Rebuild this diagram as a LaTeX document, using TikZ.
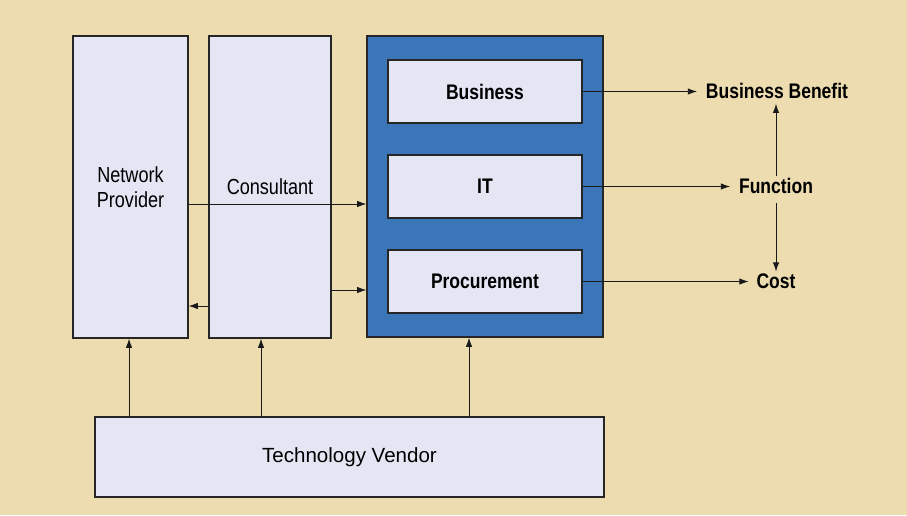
\documentclass[tikz,border=0pt]{standalone}
\usepackage{fontspec}
\setmainfont{Liberation Sans}
\newfontfamily\etroite{Liberation Sans}[FakeStretch=0.83]
\usetikzlibrary{arrows.meta}
\definecolor{fond}{RGB}{236,220,176}
\definecolor{lavande}{RGB}{228,230,244}
\definecolor{bleu}{RGB}{59,118,185}
\begin{document}
\begin{tikzpicture}[x=0.025cm,y=-0.025cm]
% Styles
\tikzstyle{fleche}=[-{Latex[length=6.5pt,width=4.5pt]},line width=0.6pt,black!90]
\tikzstyle{boite}=[draw=black!85,line width=0.9pt,fill=lavande,inner sep=0pt,align=center,font=\etroite\fontsize{15.5}{17.5}\selectfont]
\tikzstyle{bloc}=[draw=black!85,line width=0.9pt,fill=bleu,inner sep=0pt]
\tikzstyle{sortie}=[font=\etroite\bfseries\fontsize{15}{17}\selectfont]
% Dimensions
\def\Pixel{0.025cm}
\def\HauteurColonne{302*\Pixel}
\def\HauteurVolet{63*\Pixel}
\def\LargeurVolet{194*\Pixel}
% Fond
\fill[fond] (0,0) rectangle (907,515);
% Noeuds
\node[boite,minimum width={115*\Pixel},minimum height={\HauteurColonne}] (NP) at (130.5,187) {Network\\Provider};
\node[boite,minimum width={122*\Pixel},minimum height={\HauteurColonne}] (Cons) at (270,187) {Consultant};
\node[bloc,minimum width={236*\Pixel},minimum height={301*\Pixel}] (Client) at (485,186.5) {};
\node[boite,font=\etroite\bfseries\fontsize{15}{17}\selectfont,minimum width={\LargeurVolet},minimum height={\HauteurVolet}] (Bus) at (485,91.5) {Business};
\node[boite,font=\etroite\bfseries\fontsize{15}{17}\selectfont,minimum width={\LargeurVolet},minimum height={\HauteurVolet}] (IT) at (485,186.5) {IT};
\node[boite,font=\etroite\bfseries\fontsize{15}{17}\selectfont,minimum width={\LargeurVolet},minimum height={\HauteurVolet}] (Proc) at (485,281.5) {Procurement};
\node[boite,font=\fontsize{14.6}{17}\selectfont,minimum width={509*\Pixel},minimum height={80*\Pixel}] (Vendor) at (349.5,457) {Technology Vendor};
\node[sortie] (BB) at (777,91) {Business Benefit};
\node[sortie] (Func) at (776,186) {Function};
\node[sortie] (Cost) at (776,281) {Cost};
% Arcs
\draw[fleche] ([yshift=-17*\Pixel]NP.east) -- ([yshift=-17*\Pixel]NP.east -| Client.west);
\draw[fleche] ([yshift=-103*\Pixel]Cons.east) -- ([yshift=-103*\Pixel]Cons.east -| Client.west);
\draw[fleche] ([yshift=-119*\Pixel]Cons.west) -- ([yshift=-119*\Pixel]Cons.west -| NP.east);
\draw[fleche] ([xshift=-1.5*\Pixel]Vendor.north -| NP.south) -- ([xshift=-1.5*\Pixel]NP.south);
\draw[fleche] ([xshift=-9*\Pixel]Vendor.north -| Cons.south) -- ([xshift=-9*\Pixel]Cons.south);
\draw[fleche] ([xshift=-16*\Pixel]Vendor.north -| Client.south) -- ([xshift=-16*\Pixel]Client.south);
\draw[fleche] (Bus.east) -- ([xshift=-4*\Pixel]Bus.east -| BB.west);
\draw[fleche] (IT.east) -- ([xshift=-4*\Pixel]IT.east -| Func.west);
\draw[fleche] (Proc.east) -- ([xshift=-3*\Pixel]Proc.east -| Cost.west);
\draw[fleche] ([yshift=-3*\Pixel]Func.north) -- (Func.north |- BB.south);
\draw[fleche] ([yshift=-4*\Pixel]Func.south) -- ([yshift=-3*\Pixel]Cost.north);
\end{tikzpicture}
\end{document}
